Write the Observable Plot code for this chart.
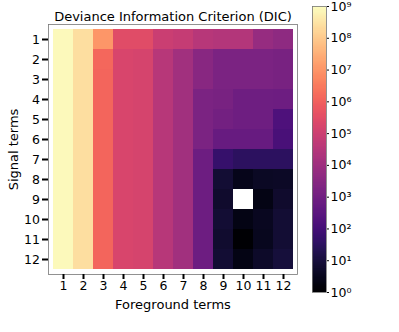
<!DOCTYPE html>
<html>
<head>
<meta charset="utf-8">
<script src="https://cdn.jsdelivr.net/npm/d3@7"></script>
<script src="https://cdn.jsdelivr.net/npm/@observablehq/plot@0.6"></script>
<style>
  html, body { margin: 0; padding: 0; background: #fff; }
  #wrap { position: relative; width: 399px; height: 332px; font-family: "DejaVu Sans", sans-serif; color: #000; }
  #wrap svg { position: absolute; top: 0; background: transparent; }
</style>
</head>
<body>
<div id="wrap"></div>
<script>
const title = "Deviance Information Criterion (DIC)";
const xLabel = "Foreground terms";
const yLabel = "Signal terms";
const foregroundTerms = [1,2,3,4,5,6,7,8,9,10,11,12];
const signalTerms = [1,2,3,4,5,6,7,8,9,10,11,12];
// log10(DIC - min) per signal-term row, columns = foreground terms 1..12 (null = masked)
const row1  = [8.9, 8.4, 7.0, 5.45, 5.45, 4.95, 4.85, 4.5, 4.45, 4.45, 3.8, 3.65];
const row2  = [8.9, 8.4, 6.15, 5.25, 5.2, 4.5, 4.05, 3.5, 3.2, 3.2, 3.2, 3.15];
const row3  = [8.9, 8.4, 6.1, 5.25, 5.2, 4.5, 4.05, 3.5, 3.2, 3.2, 3.2, 3.15];
const row4  = [8.9, 8.4, 6.1, 5.25, 5.2, 4.5, 4.05, 3.2, 3.15, 2.95, 2.95, 2.9];
const row5  = [8.9, 8.4, 6.1, 5.25, 5.2, 4.5, 4.05, 3.2, 3.05, 2.95, 2.95, 2.2];
const row6  = [8.9, 8.4, 6.1, 5.25, 5.2, 4.5, 4.05, 3.2, 2.75, 2.75, 2.75, 2.1];
const row7  = [8.9, 8.4, 6.1, 5.25, 5.2, 4.5, 4.05, 2.9, 1.7, 1.5, 1.5, 1.5];
const row8  = [8.9, 8.4, 6.1, 5.25, 5.2, 4.5, 4.05, 2.9, 0.85, 0.45, 0.6, 0.65];
const row9  = [8.9, 8.4, 6.1, 5.25, 5.2, 4.5, 4.05, 2.9, 0.75, null, 0.35, 0.75];
const row10 = [8.9, 8.4, 6.1, 5.25, 5.2, 4.5, 4.05, 2.9, 0.85, 0.35, 0.55, 0.85];
const row11 = [8.9, 8.4, 6.1, 5.25, 5.2, 4.5, 4.05, 2.9, 0.8, 0.0, 0.5, 0.85];
const row12 = [8.9, 8.4, 6.1, 5.25, 5.2, 4.5, 4.05, 2.9, 0.85, 0.35, 0.7, 0.95];
const rows = [row1,row2,row3,row4,row5,row6,row7,row8,row9,row10,row11,row12];
const colorTicks = [1e0,1e1,1e2,1e3,1e4,1e5,1e6,1e7,1e8,1e9];

const cells = [];
rows.forEach((r, i) => r.forEach((e, j) => {
  cells.push({sig: signalTerms[i], fg: foregroundTerms[j], dic: e == null ? null : Math.pow(10, e)});
}));

const colorOpts = {type: "log", scheme: "magma", domain: [1, 1e9], clamp: true};
const font = "DejaVu Sans, sans-serif";

const main = Plot.plot({
  width: 310, height: 332,
  marginLeft: 48, marginRight: 13, marginTop: 24, marginBottom: 58,
  style: {fontFamily: font, fontSize: "12.5px", color: "#000", background: "transparent"},
  x: {type: "band", domain: foregroundTerms, padding: 0, label: null},
  y: {type: "band", domain: signalTerms, padding: 0, label: null},
  color: colorOpts,
  marks: [
    Plot.cell(cells, {x: "fg", y: "sig", fill: "dic", shapeRendering: "crispEdges"}),
    Plot.frame({stroke: "#777", strokeWidth: 0.8}),
    Plot.axisX({anchor: "bottom", tickSize: 5, tickPadding: 2, strokeWidth: 2, fontSize: 12.5,
      label: null}),
    Plot.axisX({anchor: "bottom", ticks: [], tickSize: 0, fontSize: 13,
      label: xLabel, labelAnchor: "center", labelArrow: "none", labelOffset: 34}),
    Plot.axisY({anchor: "left", tickSize: 6, tickPadding: 2.5, strokeWidth: 2, fontSize: 12.5,
      label: null}),
    Plot.axisY({anchor: "left", ticks: [], tickSize: 0, fontSize: 13,
      label: yLabel, labelAnchor: "center", labelArrow: "none", labelOffset: 40}),
    Plot.text([title], {frameAnchor: "top", dy: -13, fontSize: 13, fill: "#000"})
  ]
});
main.style.left = "0px";

const steps = d3.range(0, 900).map(i => i / 100);
const fmtSup = d => {
  const e = Math.round(Math.log10(d));
  const sup = "⁰¹²³⁴⁵⁶⁷⁸⁹";
  return "10" + String(e).split("").map(c => sup[+c]).join("");
};
const bar = Plot.plot({
  width: 99, height: 332,
  marginLeft: 12, marginRight: 73, marginTop: 6, marginBottom: 40,
  style: {fontFamily: font, fontSize: "12px", color: "#000", background: "transparent"},
  x: {domain: [0, 1], axis: null},
  y: {type: "log", domain: [1, 1e9], ticks: colorTicks, tickFormat: fmtSup, label: null},
  color: colorOpts,
  marks: [
    Plot.rect(steps, {x1: 0, x2: 1, y1: d => Math.pow(10, d), y2: d => Math.pow(10, d + 0.01), fill: d => Math.pow(10, d + 0.005), shapeRendering: "crispEdges"}),
    Plot.frame({stroke: "#777", strokeWidth: 0.8}),
    Plot.axisY(colorTicks, {anchor: "right", tickSize: 2, tickPadding: 2, tickFormat: fmtSup, fontSize: 12.5, label: null})
  ]
});
bar.style.left = "300px";

const wrap = document.getElementById("wrap");
wrap.appendChild(main);
wrap.appendChild(bar);
</script>
</body>
</html>
